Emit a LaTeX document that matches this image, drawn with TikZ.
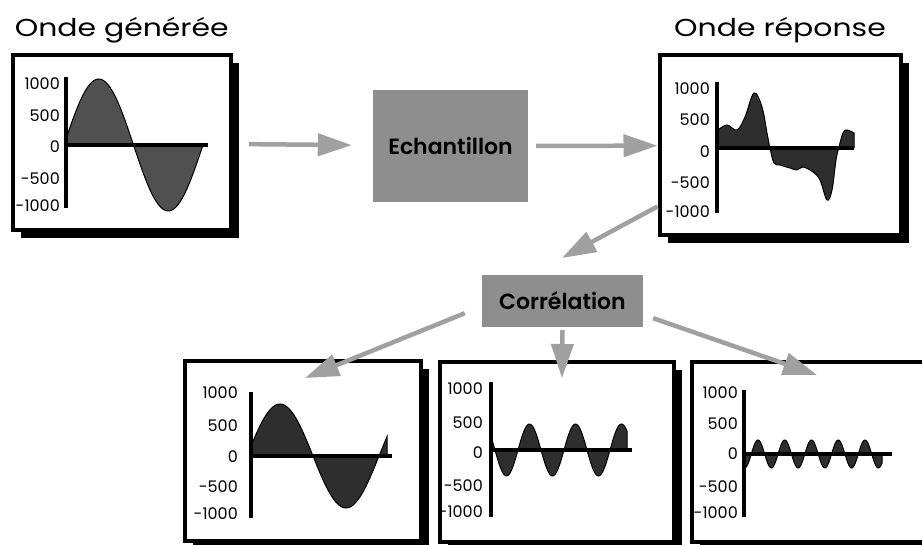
\documentclass[tikz,border=0pt]{standalone}
\usepackage{fontspec}
\setmainfont{Poppins}
\newfontfamily\titlefont[FakeStretch=1.22]{Poppins}
\newfontfamily\boxfont{Poppins}[UprightFont=* SemiBold]
\usetikzlibrary{arrows.meta,positioning,shadows}
\definecolor{boxgray}{HTML}{8E8E8E}
\definecolor{arrowgray}{HTML}{A0A0A0}
\definecolor{wavegray}{HTML}{505050}
\definecolor{wavedark}{HTML}{2E2E2E}
\tikzset{
panel/.style={draw,line width=4pt,fill=white,inner sep=0pt,drop shadow={shadow xshift=8pt,shadow yshift=-8pt,fill=black,opacity=1}},
procbox/.style={fill=boxgray,inner sep=0pt,font=\boxfont\fontsize{22}{26}\selectfont},
title/.style={inner sep=0pt,font=\titlefont\fontsize{24.5}{28}\selectfont},
ticklabel/.style={anchor=east,inner sep=0pt,font=\fontsize{16}{18}\selectfont},
axis/.style={line width=3.5pt},
wave/.style={draw=black,line width=1pt,fill=wavedark},
arrow/.style={-{Triangle[length=34pt,width=22pt]},line width=4.5pt,draw=arrowgray}
}
\begin{document}
\begin{tikzpicture}[x=1pt,y=-1pt]
\clip (0,0) rectangle (922,545);
\useasboundingbox (0,0) rectangle (922,545);

% panels
\node[panel,minimum width=218.5pt,minimum height=175pt] (gen) at (121.75,143) {};
\node[panel,minimum width=241pt,minimum height=180pt] (resp) at (780,145.5) {};
\node[panel,minimum width=235.5pt,minimum height=179pt] (pa) at (302.75,451) {};
\node[panel,minimum width=234pt,minimum height=179pt] (pb) at (556.5,452) {};
\node[panel,minimum width=234.5pt,minimum height=179pt] (pc) at (808.75,452) {};

\node[title,above=10pt of gen] (gentitle) {Onde générée};
\node[title,above=10pt of resp] (resptitle) {Onde réponse};

\node[procbox,minimum width=155pt,minimum height=112pt] (ech) at (450.5,146) {Echantillon};
\node[procbox,minimum width=161pt,minimum height=52pt] (corr) at (562.5,301) {Corrélation};

% generated wave
\filldraw[wave,fill=wavegray] plot[domain=66:203,samples=80] (\x,{145-66*sin(((\x-64)/139)*360)}) -- (203,145) -- (66,145) -- cycle;
\draw[axis] (66,77) -- (66,208);
\draw[axis] (66,145) -- (208,145);
\foreach \val/\dy in {1000/-61,500/-29,0/2,-500/34,-1000/61}
  \node[ticklabel] (gen\val) at (60,{145+\dy}) {\val};

% response wave
\filldraw[wave] plot[smooth,tension=0.6] coordinates {(718,130) (727,125) (737,130) (745,117) (754,93) (762,107) (767,133) (770,148) (774,163) (780,165) (790,168) (797,170) (803,167) (813,172) (820,180) (827,200) (832,190) (836,160) (839,147) (843,133) (847,130) (854,133)} -- (854,148) -- (718,148) -- cycle;
\draw[axis] (717,82) -- (717,213);
\draw[axis] (717,148) -- (854,148);
\foreach \val/\dy in {1000/-59,500/-28,0/4,-500/35,-1000/64}
  \node[ticklabel] (resp\val) at (710,{148+\dy}) {\val};

% correlation results
\filldraw[wave] plot[domain=251:387,samples=80] (\x,{456-52*sin(((\x-247)/132)*360)}) -- (387,456) -- (251,456) -- cycle;
\draw[axis] (251,392) -- (251,518);
\draw[axis] (251,456) -- (392,456);
\foreach \val/\dy in {1000/-63,500/-30,0/1,-500/31,-1000/58}
  \node[ticklabel] (pa\val) at (238,{456+\dy}) {\val};

\filldraw[wave] plot[domain=491:627,samples=120] (\x,{450-26*sin(((\x-472)/46)*360)}) -- (627,450) -- (491,450) -- cycle;
\draw[axis] (491,382) -- (491,517);
\draw[axis] (491,450) -- (632,450);
\foreach \val/\dy in {1000/-61,500/-27,0/3,-500/36,-1000/62}
  \node[ticklabel] (pb\val) at (483,{450+\dy}) {\val};

\filldraw[wave] plot[domain=744:882,samples=200] (\x,{454-14*sin(((\x-751.3)/26.75)*360)}) -- (882,454) -- (744,454) -- cycle;
\draw[axis] (744,390) -- (744,517);
\draw[axis] (744,454) -- (892,454);
\foreach \val/\dy in {1000/-61,500/-30,0/0,-500/33,-1000/59}
  \node[ticklabel] (pc\val) at (738,{454+\dy}) {\val};

% arrows
\coordinate (corrin) at (562,258);
\coordinate (pain) at (305,378);
\coordinate (pbin) at (562,378);
\coordinate (pcin) at (817,375);
\draw[arrow,shorten <=16pt,shorten >=21pt] (gen) -- (ech);
\draw[arrow,shorten <=8pt] (ech) -- (resp);
\draw[arrow] ([yshift=31pt]resp.south west) -- (corrin);
\draw[arrow] ([xshift=-17pt,yshift=14pt]corr.south west) -- (pain);
\draw[arrow] ([yshift=-3pt]corr.south) -- (pbin);
\draw[arrow] ([xshift=10pt,yshift=9pt]corr.south east) -- (pcin);
\end{tikzpicture}
\end{document}
